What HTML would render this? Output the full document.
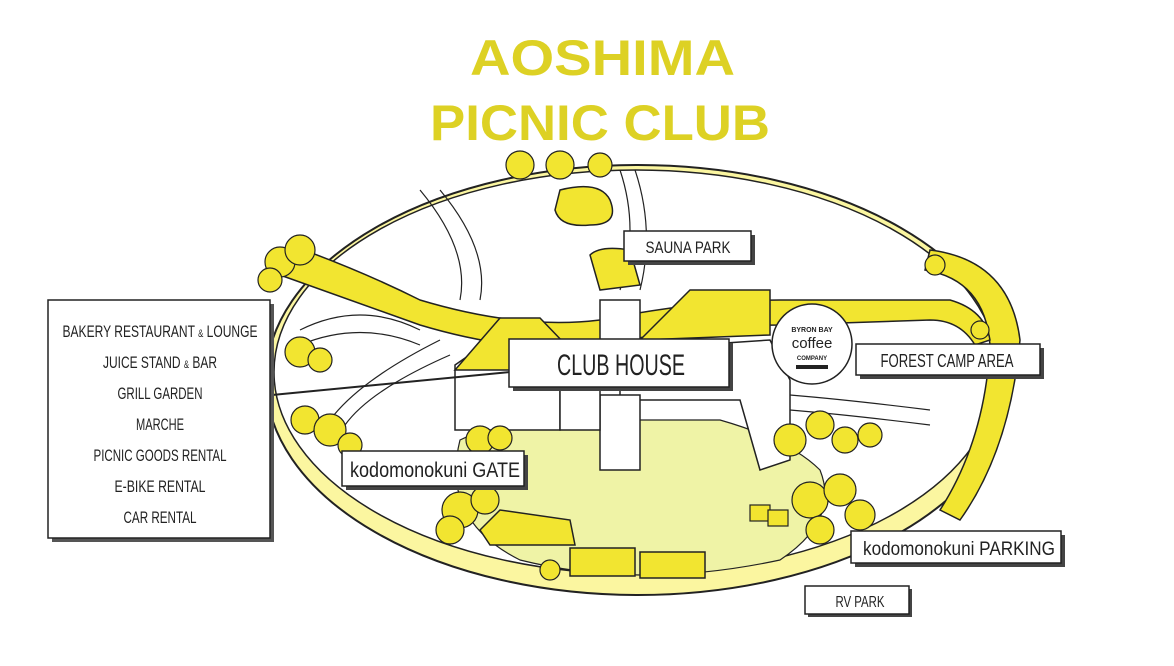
<!DOCTYPE html>
<html><head><meta charset="utf-8"><style>
html,body{margin:0;padding:0;background:#fff;width:1174px;height:666px;overflow:hidden}
svg{display:block}
.lbl{font-family:"Liberation Sans",sans-serif;fill:#222}
</style></head><body>
<svg width="1174" height="666" viewBox="0 0 1174 666" xmlns="http://www.w3.org/2000/svg">
<rect width="1174" height="666" fill="#fff"/>
<g font-family="Liberation Sans,sans-serif" font-weight="bold" fill="#ddd124">
<text x="470" y="75" font-size="50" textLength="265" lengthAdjust="spacingAndGlyphs">AOSHIMA</text>
<text x="430" y="140" font-size="50" textLength="340" lengthAdjust="spacingAndGlyphs">PICNIC CLUB</text>
</g>
<ellipse cx="638" cy="380" rx="372" ry="215" fill="#fbf6a0" stroke="#222" stroke-width="2"/>
<ellipse cx="636" cy="372" rx="362" ry="202" fill="#fff" stroke="#222" stroke-width="1.5"/>
<path d="M930 250 Q1010 260 1020 340 Q1010 450 960 520 L940 510 Q985 440 990 345 Q985 280 925 270 Z" fill="#f2e530" stroke="#222" stroke-width="1.5"/>
<path d="M290 245 Q360 270 420 300 Q520 330 600 320 Q700 300 780 300 Q880 300 950 300 Q985 310 990 340 L975 345 Q960 320 930 320 Q860 322 780 325 Q700 325 600 345 Q520 355 420 325 Q350 300 280 275 Z" fill="#f2e530" stroke="#222" stroke-width="1.5"/>
<g fill="none" stroke="#222" stroke-width="1.2">
<path d="M420 190 Q470 250 460 300 M440 190 Q490 250 480 300"/>
<path d="M620 170 Q640 230 620 290 M635 170 Q655 230 640 290"/>
<path d="M300 330 Q360 300 420 330 M300 345 Q360 320 420 345"/>
<path d="M330 420 Q360 380 440 340 M345 425 Q370 390 450 355"/>
<path d="M790 395 Q850 400 930 410 M790 410 Q850 415 930 425"/>
</g>
<path d="M560 190 Q600 180 610 200 Q620 225 590 225 Q560 228 555 210 Z" fill="#f2e530" stroke="#222" stroke-width="1.5"/>
<path d="M460 440 Q520 410 600 420 L720 420 Q790 440 820 470 Q840 520 780 560 Q640 590 520 560 Q440 520 460 440 Z" fill="#eff3a6" stroke="#222" stroke-width="1.2"/>
<g stroke="#222" stroke-width="1.5">
<path d="M455 365 L520 320 L560 345 L560 430 L455 430 Z" fill="#fff"/>
<path d="M455 370 L500 318 L540 318 L590 370 Z" fill="#f2e530"/>
<path d="M640 340 L690 290 L770 290 L770 335 Z" fill="#f2e530"/>
<path d="M620 350 L770 340 L790 380 L790 460 L760 470 L740 400 L620 400 Z" fill="#fff"/>
<path d="M600 395 L640 395 L640 470 L600 470 Z" fill="#fff"/>
<rect x="560" y="380" width="40" height="50" fill="#fff"/>
<rect x="600" y="300" width="40" height="40" fill="#fff"/>
<path d="M590 255 Q600 245 630 250 L640 285 L600 290 Z" fill="#f2e530"/>
</g>
<g stroke="#222" stroke-width="1.5">
<path d="M480 530 L500 510 L570 520 L575 545 L490 545 Z" fill="#f2e530"/>
<rect x="570" y="548" width="65" height="28" fill="#f2e530"/>
<rect x="640" y="552" width="65" height="26" fill="#f2e530"/>
</g>
<g fill="#f2e530" stroke="#222" stroke-width="1.2">
<circle cx="280" cy="262" r="15"/><circle cx="300" cy="250" r="15"/><circle cx="270" cy="280" r="12"/>
<circle cx="300" cy="352" r="15"/><circle cx="320" cy="360" r="12"/>
<circle cx="305" cy="420" r="14"/><circle cx="330" cy="430" r="16"/><circle cx="350" cy="445" r="12"/>
<circle cx="520" cy="165" r="14"/><circle cx="560" cy="165" r="14"/><circle cx="600" cy="165" r="12"/>
<circle cx="480" cy="440" r="14"/><circle cx="500" cy="438" r="12"/>
<circle cx="460" cy="510" r="18"/><circle cx="485" cy="500" r="14"/><circle cx="450" cy="530" r="14"/>
<circle cx="790" cy="440" r="16"/><circle cx="820" cy="425" r="14"/><circle cx="845" cy="440" r="13"/><circle cx="870" cy="435" r="12"/>
<circle cx="810" cy="500" r="18"/><circle cx="840" cy="490" r="16"/><circle cx="860" cy="515" r="15"/><circle cx="820" cy="530" r="14"/>
<circle cx="550" cy="570" r="10"/><circle cx="935" cy="265" r="10"/>
<circle cx="980" cy="330" r="9"/>
<rect x="750" y="505" width="20" height="16"/><rect x="768" y="510" width="20" height="16"/>
</g>
<line x1="272" y1="395" x2="510" y2="372" stroke="#222" stroke-width="2"/>
<rect x="52" y="304" width="222" height="238" fill="#555"/>
<rect x="48" y="300" width="222" height="238" fill="#fff" stroke="#222" stroke-width="1.5"/>
<g class="lbl" font-size="17" text-anchor="middle" lengthAdjust="spacingAndGlyphs">
<text x="160" y="337" textLength="195" lengthAdjust="spacingAndGlyphs">BAKERY RESTAURANT <tspan font-size="11">&amp;</tspan> LOUNGE</text>
<text x="160" y="368" textLength="114" lengthAdjust="spacingAndGlyphs">JUICE STAND <tspan font-size="11">&amp;</tspan> BAR</text>
<text x="160" y="399" textLength="85" lengthAdjust="spacingAndGlyphs">GRILL GARDEN</text>
<text x="160" y="430" textLength="48" lengthAdjust="spacingAndGlyphs">MARCHE</text>
<text x="160" y="461" textLength="133" lengthAdjust="spacingAndGlyphs">PICNIC GOODS RENTAL</text>
<text x="160" y="492" textLength="91" lengthAdjust="spacingAndGlyphs">E-BIKE RENTAL</text>
<text x="160" y="523" textLength="73" lengthAdjust="spacingAndGlyphs">CAR RENTAL</text>
</g>
<g stroke="#222" stroke-width="1.5">
<rect x="513" y="343" width="220" height="48" fill="#444" stroke="none"/>
<rect x="509" y="339" width="220" height="48" fill="#fff"/>
<rect x="628" y="235" width="127" height="30" fill="#444" stroke="none"/>
<rect x="624" y="231" width="127" height="30" fill="#fff"/>
<rect x="860" y="348" width="184" height="31" fill="#444" stroke="none"/>
<rect x="856" y="344" width="184" height="31" fill="#fff"/>
<rect x="346" y="455" width="182" height="35" fill="#444" stroke="none"/>
<rect x="342" y="451" width="182" height="35" fill="#fff"/>
<rect x="855" y="535" width="210" height="32" fill="#444" stroke="none"/>
<rect x="851" y="531" width="210" height="32" fill="#fff"/>
<rect x="808" y="589" width="104" height="28" fill="#444" stroke="none"/>
<rect x="805" y="586" width="104" height="28" fill="#fff"/>
</g>
<g class="lbl" text-anchor="middle">
<text x="621" y="375" font-size="30" textLength="128" lengthAdjust="spacingAndGlyphs">CLUB HOUSE</text>
<text x="688" y="253" font-size="17" textLength="85" lengthAdjust="spacingAndGlyphs">SAUNA PARK</text>
<text x="947" y="367" font-size="18" textLength="133" lengthAdjust="spacingAndGlyphs">FOREST CAMP AREA</text>
<text x="435" y="477" font-size="21" textLength="170" lengthAdjust="spacingAndGlyphs">kodomonokuni GATE</text>
<text x="959" y="555" font-size="19" textLength="192" lengthAdjust="spacingAndGlyphs">kodomonokuni PARKING</text>
<text x="860" y="607" font-size="16" textLength="49" lengthAdjust="spacingAndGlyphs">RV PARK</text>
</g>
<circle cx="812" cy="344" r="40" fill="#fff" stroke="#222" stroke-width="1.5"/>
<g font-family="Liberation Sans,sans-serif" text-anchor="middle" fill="#222">
<text x="812" y="332" font-size="7" font-weight="bold">BYRON BAY</text>
<text x="812" y="348" font-size="15">coffee</text>
<text x="812" y="360" font-size="6" font-weight="bold">COMPANY</text>
</g>
<rect x="796" y="365" width="32" height="4" fill="#222"/>
</svg>
</body></html>
